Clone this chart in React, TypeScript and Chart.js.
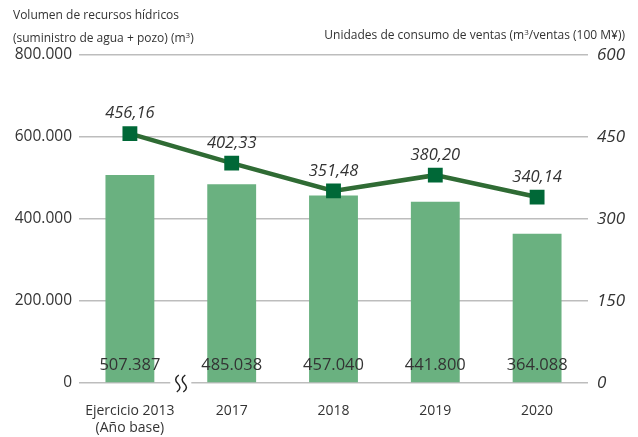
import React, { useEffect, useRef } from "react";
import { Chart, registerables } from "chart.js";

Chart.register(...registerables);

const categories: (string | string[])[] = [["Ejercicio 2013", "(Año base)"], "2017", "2018", "2019", "2020"];
const volumeValues = [507387, 485038, 457040, 441800, 364088];
const volumeLabels = ["507.387", "485.038", "457.040", "441.800", "364.088"];
const unitValues = [456.16, 402.33, 351.48, 380.2, 340.14];
const unitLabels = ["456,16", "402,33", "351,48", "380,20", "340,14"];
const leftTickValues = [0, 200000, 400000, 600000, 800000];
const leftTickLabels = ["0", "200.000", "400.000", "600.000", "800.000"];
const rightTickValues = [0, 150, 300, 450, 600];
const rightTickLabels = ["0", "150", "300", "450", "600"];

const FONT = "'Open Sans', 'Noto Sans', sans-serif";
const TEXT = "#333333";
const BAR = "#6ab180";
const LINE = "#2f6b34";
const MARKER = "#006837";

const labelPlugin = {
  id: "valueLabels",
  beforeDatasetsDraw(chart: any) {
    const ctx = chart.ctx;
    const x = chart.scales.x;
    const y = chart.scales.y;
    const bx = (x.getPixelForValue(0) + x.getPixelForValue(1)) / 2;
    const by = y.getPixelForValue(0);
    ctx.save();
    ctx.fillStyle = "#ffffff";
    ctx.fillRect(bx - 10.5, by - 3, 21, 6);
    ctx.strokeStyle = "#222222";
    ctx.lineWidth = 1.5;
    for (const dx of [-3, 3.5]) {
      const cx = bx + dx;
      ctx.beginPath();
      ctx.moveTo(cx + 1, by - 8);
      ctx.bezierCurveTo(cx - 3.5, by - 5, cx - 2.5, by - 2, cx, by + 0.5);
      ctx.bezierCurveTo(cx + 2.5, by + 3, cx + 3.5, by + 6, cx - 1, by + 9);
      ctx.stroke();
    }
    ctx.restore();
  },
  afterDatasetsDraw(chart: any) {
    const ctx = chart.ctx;
    const y = chart.scales.y;
    ctx.save();
    ctx.textAlign = "center";
    ctx.textBaseline = "middle";
    ctx.fillStyle = TEXT;
    const barMeta = chart.getDatasetMeta(0);
    ctx.font = `16.5px ${FONT}`;
    barMeta.data.forEach((el: any, i: number) => {
      ctx.fillText(volumeLabels[i], el.x, y.getPixelForValue(0) - 18);
    });
    const lineMeta = chart.getDatasetMeta(1);
    ctx.font = `italic 16.5px ${FONT}`;
    lineMeta.data.forEach((el: any, i: number) => {
      ctx.fillText(unitLabels[i], el.x, el.y - 20);
    });
    ctx.restore();
  },
};

export default function App() {
  const ref = useRef<HTMLCanvasElement>(null);
  useEffect(() => {
    const chart = new Chart(ref.current!, {
      type: "bar",
      data: {
        labels: categories,
        datasets: [
          {
            type: "bar",
            data: volumeValues,
            backgroundColor: BAR,
            barPercentage: 0.48,
            categoryPercentage: 1,
            yAxisID: "y",
            order: 1,
          },
          {
            type: "line",
            data: unitValues,
            borderColor: LINE,
            borderWidth: 4.5,
            backgroundColor: MARKER,
            pointStyle: "rect",
            pointRadius: 10.5,
            pointBorderWidth: 0,
            pointBackgroundColor: MARKER,
            tension: 0,
            yAxisID: "y1",
            order: 0,
          } as any,
        ],
      },
      options: {
        responsive: false,
        maintainAspectRatio: false,
        animation: false,
        layout: { padding: { top: 55, left: 0, right: 0, bottom: 0 } },
        plugins: { legend: { display: false }, tooltip: { enabled: false } },
        scales: {
          x: {
            grid: { display: false },
            border: { display: false },
            ticks: { color: TEXT, font: { family: FONT, size: 14 }, padding: 12, maxRotation: 0 },
            afterFit: (s: any) => { s.height = 54; },
          },
          y: {
            position: "left",
            min: 0,
            max: 800000,
            afterBuildTicks: (s: any) => { s.ticks = leftTickValues.map((v) => ({ value: v })); },
            ticks: {
              color: TEXT,
              font: { family: FONT, size: 15.5 },
              padding: 7,
              callback: (v: any) => leftTickLabels[leftTickValues.indexOf(Number(v))],
            },
            grid: { color: "#bdbdbd", lineWidth: 1.5, drawTicks: false },
            border: { display: false },
            afterFit: (s: any) => { s.width = 79; },
          },
          y1: {
            position: "right",
            min: 0,
            max: 600,
            afterBuildTicks: (s: any) => { s.ticks = rightTickValues.map((v) => ({ value: v })); },
            ticks: {
              color: TEXT,
              font: { family: FONT, size: 17, style: "italic" },
              padding: 9,
              callback: (v: any) => rightTickLabels[rightTickValues.indexOf(Number(v))],
            },
            grid: { display: false, drawTicks: false },
            border: { display: false },
            afterFit: (s: any) => { s.width = 50; },
          },
        },
      },
      plugins: [labelPlugin],
    });
    return () => chart.destroy();
  }, []);

  const titleStyle: React.CSSProperties = {
    position: "absolute",
    fontFamily: FONT,
    fontSize: 12,
    color: TEXT,
    whiteSpace: "nowrap",
    lineHeight: "16px",
  };

  return (
    <div style={{ position: "fixed", left: 0, top: 0, width: 638, height: 437, background: "#fff" }}>
      <canvas ref={ref} width={638} height={437} style={{ position: "absolute", left: 0, top: 0 }} />
      <div style={{ ...titleStyle, left: 13, top: 7 }}>Volumen de recursos hídricos</div>
      <div style={{ ...titleStyle, left: 13, top: 30 }}>
        (suministro de agua + pozo) (m<sup style={{ fontSize: 8, verticalAlign: "4px", lineHeight: 0 }}>3</sup>)
      </div>
      <div style={{ ...titleStyle, right: 13, top: 27 }}>
        Unidades de consumo de ventas (m<sup style={{ fontSize: 8, verticalAlign: "4px", lineHeight: 0 }}>3</sup>/ventas (100 M¥))
      </div>
    </div>
  );
}
